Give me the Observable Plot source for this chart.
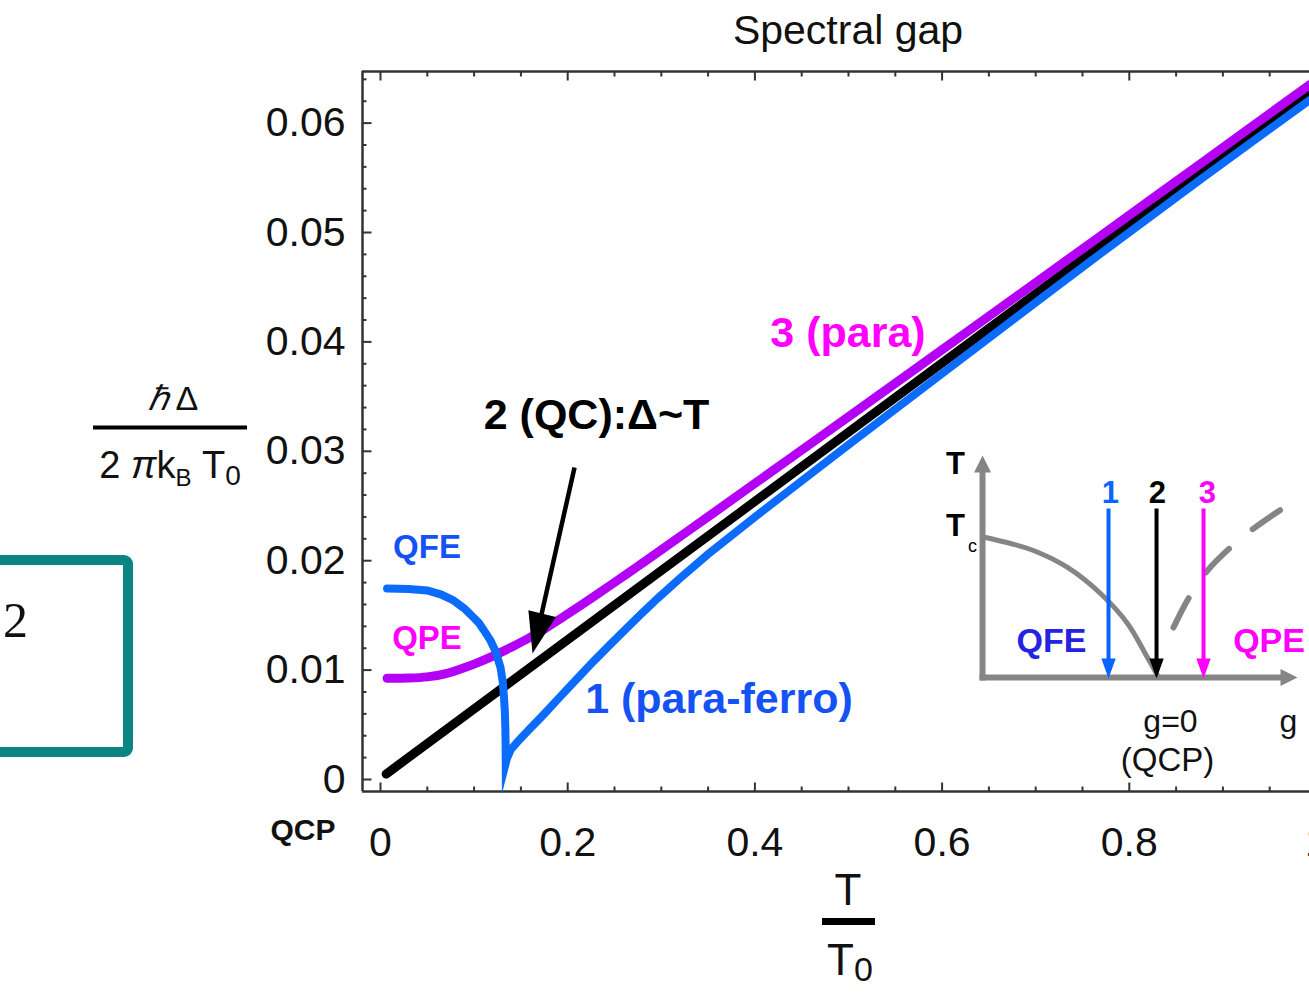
<!DOCTYPE html>
<html><head><meta charset="utf-8">
<script src="https://cdn.jsdelivr.net/npm/d3@7"></script>
<script src="https://cdn.jsdelivr.net/npm/@observablehq/plot@0.6"></script>
<style>
html,body{margin:0;padding:0;background:#fff;overflow:hidden;}
#chart{position:relative;width:1309px;height:995px;overflow:hidden;}
</style></head><body><div id="chart"></div>
<script>
// ---------------- data ----------------
const xTickLabels = [0, 0.2, 0.4, 0.6, 0.8, 1];
const xMajorTicks = [0, 0.2, 0.4, 0.6, 0.8];
const xMinorTicks = [0.05,0.1,0.15,0.25,0.3,0.35,0.45,0.5,0.55,0.65,0.7,0.75,0.85,0.9,0.95];
const yTickLabels = [0, 0.01, 0.02, 0.03, 0.04, 0.05, 0.06];
const yMinorTicks = [0.002,0.004,0.006,0.008,0.012,0.014,0.016,0.018,0.022,0.024,0.026,0.028,
  0.032,0.034,0.036,0.038,0.042,0.044,0.046,0.048,0.052,0.054,0.056,0.058,0.062,0.064];

// curve 2 (QC): Δ ~ T   [T/T0, ħΔ/(2π kB T0)]
const curveQC = [[0.006,0.0005],[0.9925,0.0629]];
// curve 3 (para)
const curvePara = [[0.007,0.00925],[0.03,0.00927],[0.05,0.00938],[0.07,0.00968],[0.0855,0.0101],
  [0.1,0.01055],[0.1207,0.0113],[0.14,0.0121],[0.157,0.01285],[0.175,0.01375],[0.1923,0.0147],
  [0.21,0.0157],[0.2276,0.01671],[0.245,0.01772],[0.2639,0.01883],[0.28,0.01979],[0.296,0.02075],
  [0.35,0.02402],[0.3985,0.02697],[0.5,0.03316],[0.6,0.03928],[0.7,0.04542],[0.769,0.04967],
  [0.88,0.05653],[0.9925,0.0635]];
// curve 1 (para-ferro)
const curveParaFerro = [[0.007,0.01746],[0.03,0.01742],[0.05,0.01728],[0.065,0.0169],[0.078,0.01636],
  [0.09,0.0156],[0.0994,0.01481],[0.105,0.01432],[0.11,0.0137],[0.1145,0.0131],[0.1175,0.01271],
  [0.123,0.0117],[0.1282,0.01024],[0.1305,0.009],[0.1318,0.0077],[0.1328,0.0063],[0.1334,0.0047],
  [0.1337,0.003],[0.1338,0.0015],[0.135,0.0019],[0.137,0.0023],[0.1389,0.0027],[0.147,0.0035],
  [0.157,0.0044],[0.175,0.006],[0.1923,0.0076],[0.21,0.0092],[0.2276,0.0108],[0.245,0.0123],
  [0.2639,0.0139],[0.28,0.01525],[0.296,0.01655],[0.32,0.0184],[0.35,0.0206],[0.3985,0.0239],
  [0.45,0.0273],[0.5,0.0306],[0.6,0.0371],[0.7,0.0436],[0.769,0.04805],[0.88,0.0551],[0.9925,0.0621]];

// annotation arrow "2 (QC)"
const qcArrow = {T1:0.2073, v1:0.02852, T2:0.1661, v2:0.01285, tipT:0.1624, tipV:0.01152};

// labels in the main panel
const mainLabels = [
  {text:"QFE", T:0.0497, v:0.02029, color:"#1452f5", size:33},
  {text:"QPE", T:0.0497, v:0.01197, color:"#ff00ff", size:33},
  {text:"2 (QC):Δ~T", T:0.2308, v:0.03208, color:"#000000", size:43},
  {text:"3 (para)", T:0.4995, v:0.03949, color:"#ff00ff", size:43},
  {text:"1 (para-ferro)", T:0.3616, v:0.00612, color:"#1452f5", size:43}
];

// inset phase diagram (drawn in the main panel's coordinates)
const insetBoundary = [[0.6464,0.02212],[0.6731,0.02157],[0.6976,0.02093],[0.734,0.01938],
  [0.7692,0.017],[0.7981,0.01426],[0.8194,0.01115],[0.8301,0.00951]];
const insetCrossover = [[0.8472,0.01389],[0.8632,0.01655],[0.8835,0.0191],[0.9081,0.02121],
  [0.9327,0.02294],[0.9637,0.02477]];
const insetAxisV = {T1:0.6432, v1:0.00905, T2:0.6432, v2:0.02888, tipT:0.6432, tipV:0.02962};
const insetAxisH = {T1:0.6400, v1:0.00932, T2:0.9669, v2:0.00932, tipT:0.9797, tipV:0.00932};
const insetArrows = [
  {label:"1", T:0.7778, labelT:0.7799, color:"#0a64ff"},
  {label:"2", T:0.8291, labelT:0.8301, color:"#000000"},
  {label:"3", T:0.8793, labelT:0.8835, color:"#ff00ff"}
];
const insetArrowTop = 0.02477, insetArrowEnd = 0.0101, insetArrowTip = 0.00923, insetLabelV = 0.02532;
const insetLabels = [
  {text:"T", T:0.6143, v:0.02797, color:"#000", size:31, weight:"bold"},
  {text:"T", T:0.6143, v:0.0223, color:"#000", size:31, weight:"bold"},
  {text:"c", T:0.6325, v:0.02075, color:"#000", size:18, weight:"normal"},
  {text:"QFE", T:0.7169, v:0.01161, color:"#2323e0", size:34, weight:"bold"},
  {text:"QPE", T:0.9493, v:0.01161, color:"#ff00ff", size:34, weight:"bold"},
  {text:"g=0", T:0.844, v:0.0043, color:"#111", size:32, weight:"normal"},
  {text:"(QCP)", T:0.8408, v:0.00082, color:"#111", size:33, weight:"normal"},
  {text:"g", T:0.97, v:0.0043, color:"#111", size:32, weight:"normal"}
];

// ---------------- scales ----------------
const xDomain = [-0.01923, 0.99252];
const yDomain = [-0.001097, 0.064717];
const FONT = "'Liberation Sans', Arial, Helvetica, sans-serif";

function tickSymbol(angleDeg) {
  const a = angleDeg * Math.PI / 180;
  return {draw(ctx, size) {
    const l = Math.sqrt(size / Math.PI);
    ctx.moveTo(0, 0);
    ctx.lineTo(l * Math.sin(a), -l * Math.cos(a));
  }};
}
function headSymbol(angleDeg, widthRatio) {
  const a = angleDeg * Math.PI / 180;
  return {draw(ctx, size) {
    const L = Math.sqrt(size / Math.PI), w = L * widthRatio / 2;
    const p = [[0,0],[w,L],[-w,L]].map(([x,y]) => [x*Math.cos(a) - y*Math.sin(a), x*Math.sin(a) + y*Math.cos(a)]);
    ctx.moveTo(p[0][0], p[0][1]); ctx.lineTo(p[1][0], p[1][1]); ctx.lineTo(p[2][0], p[2][1]); ctx.closePath();
  }};
}
const tk = {fill: "none", stroke: "#333", strokeWidth: 2};
const fmt = d => d === 0 ? "0" : String(d);
const GRAY = "#858585";

const marks = [
  // frame (top, bottom, left)
  Plot.ruleY([yDomain[0], yDomain[1]], {stroke: "#333", strokeWidth: 2.5}),
  Plot.ruleX([xDomain[0]], {stroke: "#333", strokeWidth: 2.5}),
  // inward ticks
  Plot.dot(xMajorTicks, {x: d => d, y: () => yDomain[0], r: 9, symbol: tickSymbol(0), ...tk}),
  Plot.dot(xMinorTicks, {x: d => d, y: () => yDomain[0], r: 5, symbol: tickSymbol(0), ...tk}),
  Plot.dot(xMajorTicks, {x: d => d, y: () => yDomain[1], r: 9, symbol: tickSymbol(180), ...tk}),
  Plot.dot(xMinorTicks, {x: d => d, y: () => yDomain[1], r: 5, symbol: tickSymbol(180), ...tk}),
  Plot.dot(yTickLabels, {x: () => xDomain[0], y: d => d, r: 9, symbol: tickSymbol(90), ...tk}),
  Plot.dot(yMinorTicks, {x: () => xDomain[0], y: d => d, r: 4, symbol: tickSymbol(90), ...tk}),
  // tick labels
  Plot.axisX({ticks: xTickLabels, tickSize: 0, tickPadding: 35, fontSize: 41, tickFormat: fmt, label: null, fill: "#111"}),
  Plot.axisY({ticks: yTickLabels, tickSize: 0, tickPadding: 17, fontSize: 41, tickFormat: fmt, label: null, fill: "#111"}),

  // ---- inset ----
  Plot.line(insetBoundary, {x: d => d[0], y: d => d[1], stroke: GRAY, strokeWidth: 5, curve: "catmull-rom"}),
  Plot.line(insetCrossover, {x: d => d[0], y: d => d[1], stroke: GRAY, strokeWidth: 6, curve: "catmull-rom", strokeDasharray: "33,31"}),
  Plot.link([insetAxisV, insetAxisH], {x1: "T1", y1: "v1", x2: "T2", y2: "v2", stroke: GRAY, strokeWidth: 6}),
  Plot.dot([insetAxisV], {x: "tipT", y: "tipV", r: 17, symbol: headSymbol(0, 1.0), fill: GRAY}),
  Plot.dot([insetAxisH], {x: "tipT", y: "tipV", r: 17, symbol: headSymbol(90, 1.0), fill: GRAY}),
  ...insetArrows.map(a => Plot.link([a], {x1: "T", y1: () => insetArrowTop, x2: "T", y2: () => insetArrowEnd, stroke: a.color, strokeWidth: 4})),
  ...insetArrows.map(a => Plot.dot([a], {x: "T", y: () => insetArrowTip, r: 20, symbol: headSymbol(180, 0.72), fill: a.color})),
  ...insetArrows.map(a => Plot.text([a], {x: "labelT", y: () => insetLabelV, text: "label", fill: a.color, fontSize: 31, fontWeight: "bold", lineAnchor: "bottom", textAnchor: "middle"})),
  ...insetLabels.map(l => Plot.text([l], {x: "T", y: "v", text: "text", fill: l.color, fontSize: l.size, fontWeight: l.weight, lineAnchor: "bottom", textAnchor: "middle"})),

  // ---- curves ----
  Plot.line(curveQC, {x: d => d[0], y: d => d[1], stroke: "#000", strokeWidth: 9}),
  Plot.line(curvePara, {x: d => d[0], y: d => d[1], stroke: "#b400f5", strokeWidth: 9, curve: "catmull-rom"}),
  Plot.line(curveParaFerro, {x: d => d[0], y: d => d[1], stroke: "#0b6cfb", strokeWidth: 8, strokeLinejoin: "miter", strokeMiterlimit: 12}),

  // ---- annotation arrow + labels ----
  Plot.link([qcArrow], {x1: "T1", y1: "v1", x2: "T2", y2: "v2", stroke: "#000", strokeWidth: 4.5}),
  Plot.dot([qcArrow], {x: "tipT", y: "tipV", r: 41, symbol: headSymbol(193.6, 0.69), fill: "#000"}),
  ...mainLabels.map(l => Plot.text([l], {x: "T", y: "v", text: "text", fill: l.color, fontSize: l.size, fontWeight: "bold", lineAnchor: "bottom", textAnchor: "middle"}))
];

const chart = Plot.plot({
  width: 1309, height: 995,
  marginLeft: 362, marginRight: 0, marginTop: 71, marginBottom: 204,
  x: {domain: xDomain},
  y: {domain: yDomain},
  style: {fontFamily: FONT, background: "#fff", color: "#111", overflow: "hidden"},
  marks
});
document.getElementById("chart").appendChild(chart);

// ---- decorations: title, axis labels, side box ----
const svg = d3.select(chart);
const g = svg.append("g").attr("font-family", FONT).attr("fill", "#111");
g.append("text").attr("x", 848).attr("y", 44).attr("text-anchor", "middle").attr("font-size", 41).text("Spectral gap");

const yl = g.append("text").attr("x", 173).attr("y", 410).attr("text-anchor", "middle").attr("font-size", 34);
yl.append("tspan").attr("font-style", "italic").text("ℏ");
yl.append("tspan").text("\u2009Δ");
g.append("rect").attr("x", 93).attr("y", 425.5).attr("width", 154).attr("height", 4).attr("fill", "#000");
const yd = g.append("text").attr("x", 170).attr("y", 478).attr("text-anchor", "middle").attr("font-size", 38);
yd.append("tspan").text("2\u00a0");
yd.append("tspan").attr("font-style", "italic").text("π");
yd.append("tspan").text("k");
yd.append("tspan").attr("font-size", 24).attr("dy", 8).text("B");
yd.append("tspan").attr("dy", -8).text("\u00a0T");
yd.append("tspan").attr("font-size", 28).attr("dy", 7).text("0");

g.append("text").attr("x", 848).attr("y", 905).attr("text-anchor", "middle").attr("font-size", 44).text("T");
g.append("rect").attr("x", 822).attr("y", 918).attr("width", 53).attr("height", 7).attr("fill", "#000");
const xd = g.append("text").attr("x", 850).attr("y", 975).attr("text-anchor", "middle").attr("font-size", 44);
xd.append("tspan").text("T");
xd.append("tspan").attr("font-size", 34).attr("dy", 6).text("0");

g.append("text").attr("x", 303).attr("y", 840).attr("text-anchor", "middle").attr("font-size", 30).attr("font-weight", "bold").text("QCP");

g.append("rect").attr("x", -20).attr("y", 560).attr("width", 148).attr("height", 192).attr("rx", 4)
  .attr("fill", "none").attr("stroke", "#0b8584").attr("stroke-width", 10);
g.append("text").attr("x", 3).attr("y", 637).attr("text-anchor", "start")
  .attr("font-family", "'Liberation Serif', 'Times New Roman', serif").attr("font-size", 50).text("2");
</script></body></html>
